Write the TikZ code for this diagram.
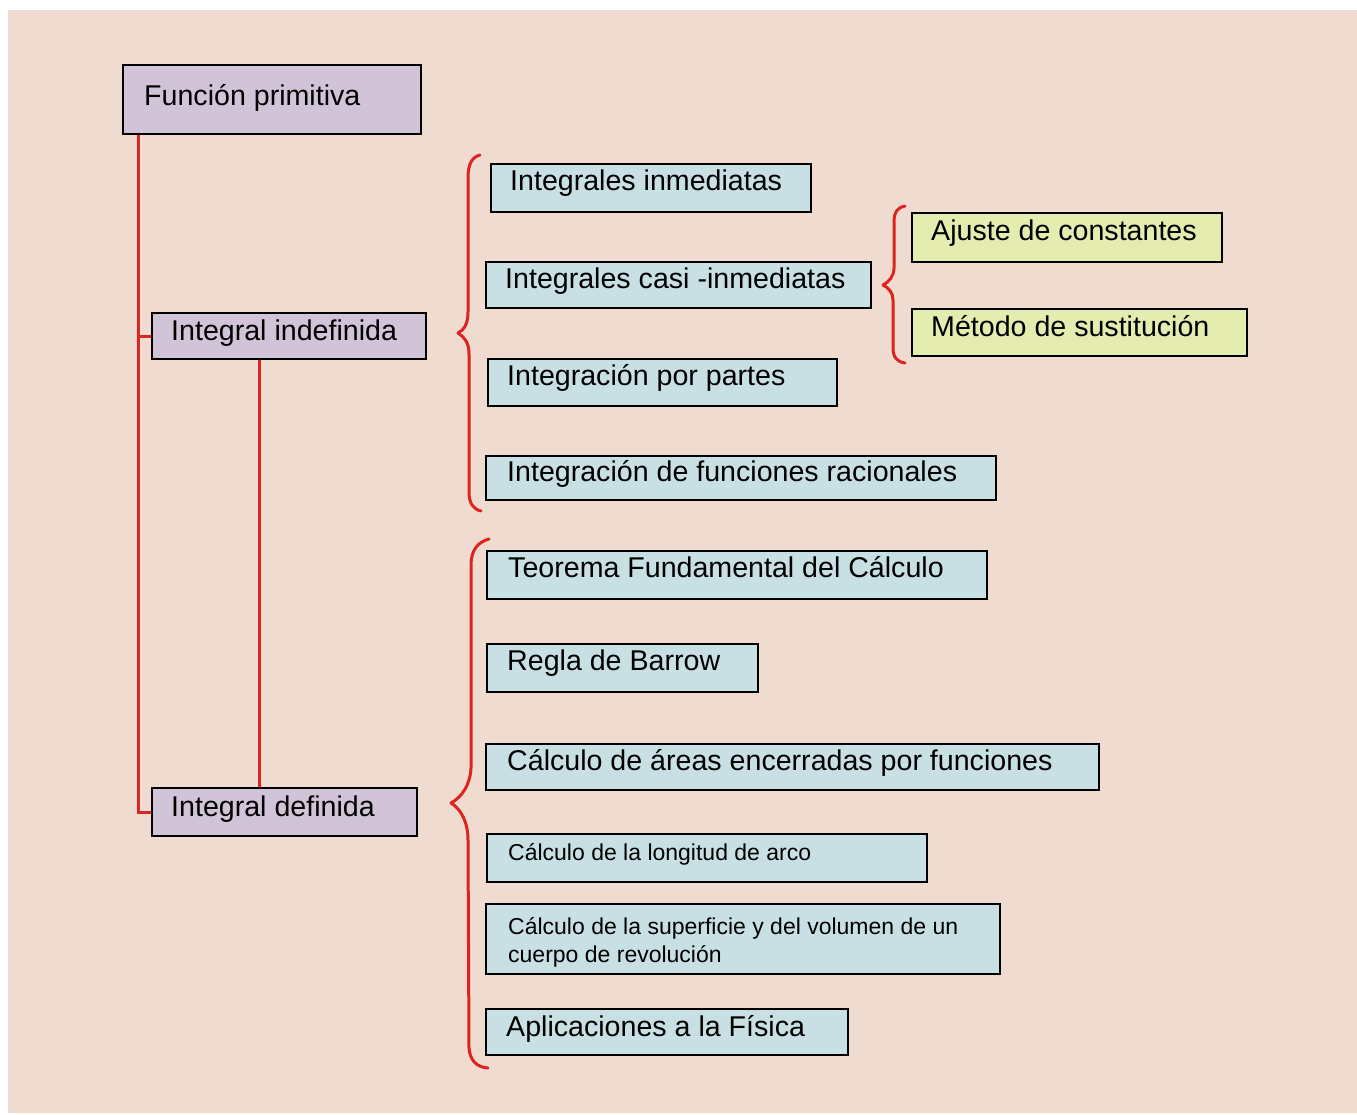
\documentclass[tikz,border=0pt]{standalone}
\usepackage{fontspec}
\setmainfont{Liberation Sans}
\usetikzlibrary{calc}
\definecolor{paper}{RGB}{239,219,208}
\definecolor{lilac}{RGB}{210,196,216}
\definecolor{paleblue}{RGB}{200,224,228}
\definecolor{paleyellow}{RGB}{229,236,176}
\definecolor{brick}{RGB}{222,36,30}
\tikzset{
  conceptbase/.style={draw=black, line width=1.2pt, fill=lilac, inner sep=0pt},
  methodbase/.style={draw=black, line width=1.2pt, fill=paleblue, inner sep=0pt},
  tricksbase/.style={draw=black, line width=1.2pt, fill=paleyellow, inner sep=0pt},
  biglabel/.style={font=\fontsize{14.3}{17}\selectfont, inner sep=0pt, anchor=base west},
  smalllabel/.style={font=\fontsize{11.5}{14}\selectfont, inner sep=0pt, align=left},
  linkline/.style={draw=brick, line width=1.5pt},
  bracket/.style={draw=brick, line width=1.5pt, line cap=round, line join=round},
}

\begin{document}
\begin{tikzpicture}[x=0.5pt, y=-0.5pt]
  \fill[white] (0,0) rectangle (1357,1115);
  \fill[paper] (8,10) rectangle (1357,1113);
  \useasboundingbox (0,0) rectangle (1357,1115);

  % main concepts
  \node[conceptbase, minimum width=149pt, minimum height=34.5pt] (fp) at (272,99.5) {};
  \node[biglabel] (fptext) at ([xshift=11pt, yshift=-2.8pt]fp.west) {Función primitiva};

  \node[conceptbase, minimum width=137pt, minimum height=23pt] (ind) at (289,336) {};
  \node[biglabel] (indtext) at ([xshift=10pt, yshift=-2pt]ind.west) {Integral indefinida};

  \node[conceptbase, minimum width=132.5pt, minimum height=24pt] (def) at (284.5,812) {};
  \node[biglabel] (deftext) at ([xshift=10pt, yshift=-2.3pt]def.west) {Integral definida};

  \coordinate (trunk) at ([xshift=8.5pt]fp.south west);
  \draw[linkline] (trunk) |- (def.west);
  \draw[linkline] (trunk |- ind.west) -- (ind.west);
  \coordinate (stem) at ([xshift=54.5pt]ind.south west);
  \draw[linkline] (stem) -- (stem |- def.north);

  % indefinite integral
  \node[methodbase, minimum width=160pt, minimum height=24pt] (inmed) at (651,188) {};
  \node[biglabel] (inmedtext) at ([xshift=10pt, yshift=-1.4pt]inmed.west) {Integrales inmediatas};

  \node[methodbase, minimum width=192.5pt, minimum height=23pt] (casi) at (678.5,285) {};
  \node[biglabel] (casitext) at ([xshift=10pt, yshift=-1.7pt]casi.west) {Integrales casi -inmediatas};

  \node[methodbase, minimum width=174.5pt, minimum height=23.5pt] (partes) at (662.5,382.5) {};
  \node[biglabel] (partestext) at ([xshift=10pt, yshift=-1.3pt]partes.west) {Integración por partes};

  \node[methodbase, minimum width=255pt, minimum height=22pt] (racio) at (741,478) {};
  \node[biglabel] (raciotext) at ([xshift=11pt, yshift=-1.8pt]racio.west) {Integración de funciones racionales};

  \node[tricksbase, minimum width=155pt, minimum height=24.5pt] (ajuste) at (1067,237.5) {};
  \node[biglabel] (ajustetext) at ([xshift=10pt, yshift=-1.3pt]ajuste.west) {Ajuste de constantes};

  \node[tricksbase, minimum width=167.5pt, minimum height=23.5pt] (sust) at (1079.5,332.5) {};
  \node[biglabel] (susttext) at ([xshift=10pt, yshift=-2pt]sust.west) {Método de sustitución};

  % definite integral
  \node[methodbase, minimum width=250pt, minimum height=24pt] (tfc) at (737,575) {};
  \node[biglabel] (tfctext) at ([xshift=11pt, yshift=-1.2pt]tfc.west) {Teorema Fundamental del Cálculo};

  \node[methodbase, minimum width=135.5pt, minimum height=24pt] (barrow) at (622.5,668) {};
  \node[biglabel] (barrowtext) at ([xshift=10.5pt, yshift=-1pt]barrow.west) {Regla de Barrow};

  \node[methodbase, minimum width=306.5pt, minimum height=23pt] (areas) at (792.5,767) {};
  \node[biglabel] (areastext) at ([xshift=11pt, yshift=-1.5pt]areas.west) {Cálculo de áreas encerradas por funciones};

  \node[methodbase, minimum width=220pt, minimum height=24pt] (arco) at (707,858) {};
  \node[smalllabel, anchor=base west] (arcotext) at ([xshift=11pt, yshift=-1.4pt]arco.west) {Cálculo de la longitud de arco};

  \node[methodbase, minimum width=257pt, minimum height=35pt] (revol) at (743,939) {};
  \node[smalllabel, anchor=west] (revoltext) at ([xshift=11.5pt, yshift=-1.8pt]revol.west) {Cálculo de la superficie y del volumen de un\\cuerpo de revolución};

  \node[methodbase, minimum width=181pt, minimum height=23pt] (fisica) at (667,1032) {};
  \node[biglabel] (fisicatext) at ([xshift=10.5pt, yshift=-2.3pt]fisica.west) {Aplicaciones a la Física};

  % braces
  \draw[bracket] (480,155) .. controls (472,157) and (468,164) .. (468,178) -- (468,312)
    .. controls (468,324) and (464,330) .. (458,333) .. controls (464,337) and (469,342) .. (469,354)
    -- (469,492) .. controls (469,503) and (473,509) .. (481,511);
  \draw[bracket] (489,539) .. controls (478,542) and (471,550) .. (471,565) -- (471,768)
    .. controls (470,785) and (462,797) .. (451,803) .. controls (461,809) and (468,822) .. (468,840)
    -- (469,1048) .. controls (470,1060) and (476,1067) .. (488,1068);
  \draw[bracket] (905,206) .. controls (898,207) and (894,212) .. (894,222) -- (894,268)
    .. controls (894,276) and (889,282) .. (883,285) .. controls (889,288) and (893,293) .. (893,300)
    -- (893,348) .. controls (893,357) and (897,362) .. (905,363);
\end{tikzpicture}
\end{document}
